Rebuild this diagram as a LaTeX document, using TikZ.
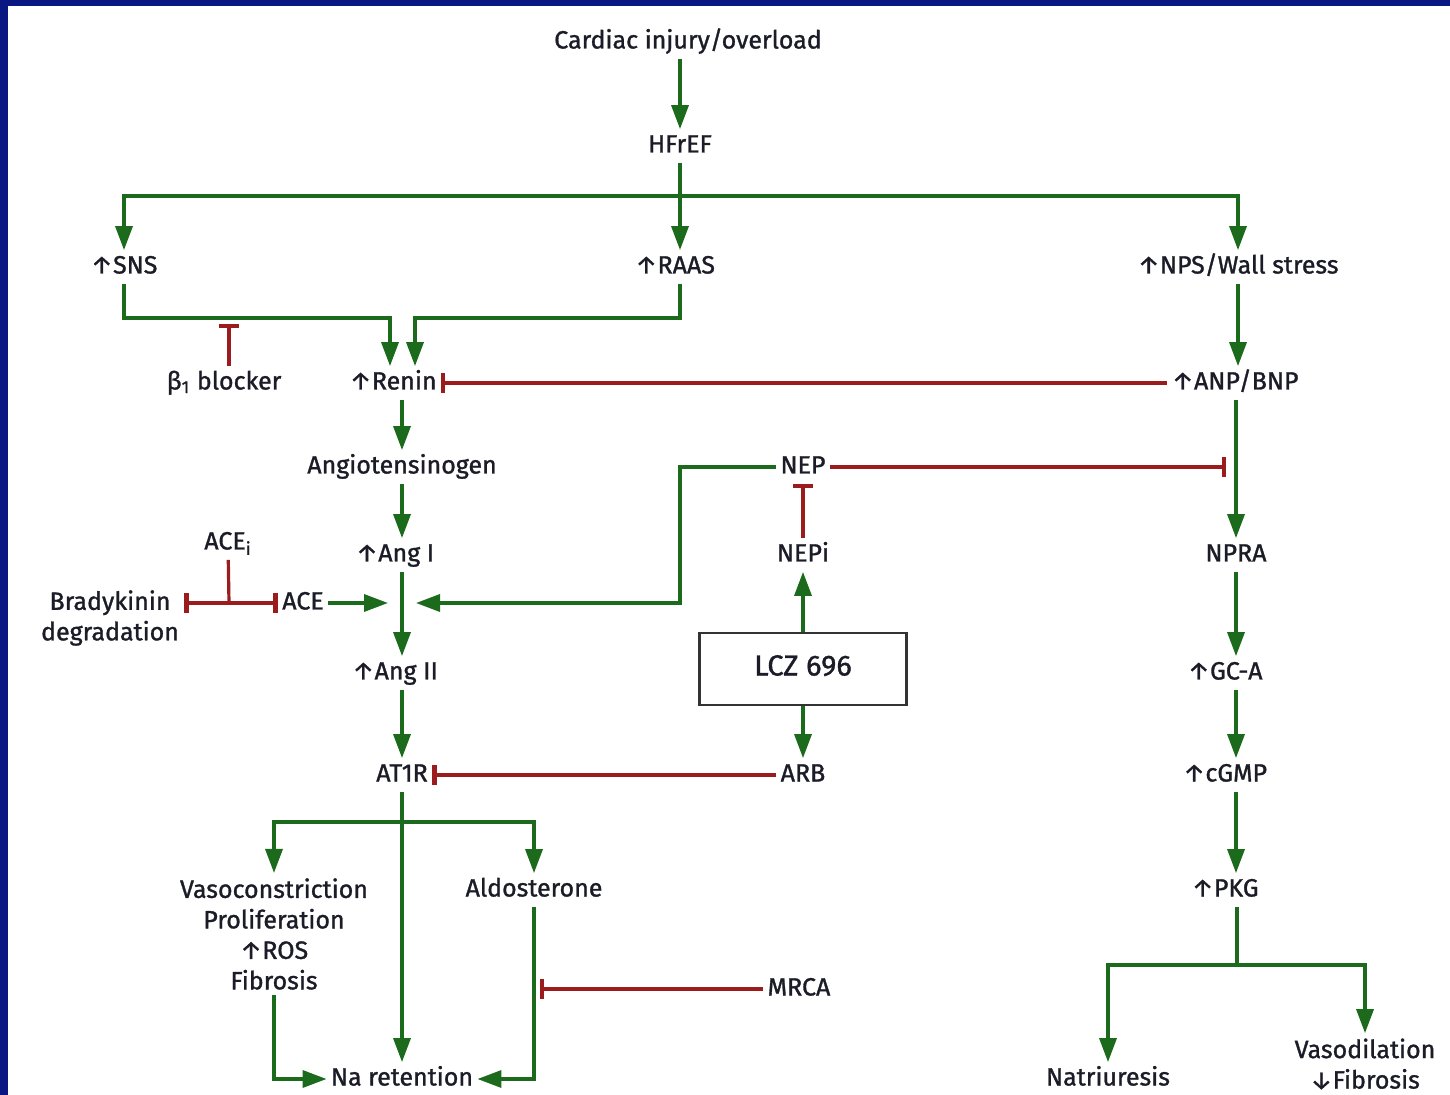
\documentclass[tikz,border=0pt]{standalone}
\usepackage{fontspec}
\setmainfont{Fira Sans}[UprightFeatures={FakeBold=1.2}]
\usetikzlibrary{arrows.meta}

\definecolor{frameblue}{RGB}{10,22,130}
\definecolor{actgreen}{RGB}{28,106,28}
\definecolor{inhred}{RGB}{155,28,28}
\definecolor{txtdark}{RGB}{28,28,40}
\newcommand{\upar}{\char"2191\relax}
\newcommand{\dnar}{\char"2193\relax}

\begin{document}
\begin{tikzpicture}[x=0.5pt,y=-0.5pt,
  lbl/.style={text=txtdark, inner xsep=2pt, inner ysep=2.5pt, text height=9pt, text depth=2.5pt, font=\fontsize{12.5}{15}\selectfont},
  lbls/.style={text=txtdark, inner sep=2.5pt, align=center, font=\fontsize{12.5}{15.25}\selectfont},
  act/.style={draw=actgreen, line width=1.7pt, -{Triangle[length=12pt,width=8.5pt]}},
  link/.style={draw=actgreen, line width=1.7pt},
  inh/.style={draw=inhred, line width=1.6pt, -{Bar[width=10pt,line width=2.2pt]}},
  inhline/.style={draw=inhred, line width=1.6pt}]
\fill[frameblue] (0,0) rectangle (1450,1095);
\fill[white] (8,6) rectangle (1450,1095);
\useasboundingbox (0,0) rectangle (1450,1095);

% top of the cascade
\node[lbl] (card) at (688,42) {Cardiac injury/overload};
\node[lbl] (hf) at (680,146) {HFrEF};
\node[lbl] (sns) at (124,267) {\upar SNS};
\node[lbl] (raas) at (675,267) {\upar RAAS};
\node[lbl] (nps) at (1238,267) {\upar NPS/Wall stress};
\coordinate (split) at (680,196);

% RAAS side
\node[lbl] (beta) at (224,383) {β\textsubscript{1} blocker};
\node[lbl] (renin) at (393,383) {\upar Renin};
\node[lbl] (agt) at (402,467) {Angiotensinogen};
\node[lbl] (acei) at (228,543) {ACE\textsubscript{i}};
\node[lbl] (ang1) at (395,555) {\upar Ang I};
\node[lbls] (brady) at (110,618) {Bradykinin\\degradation};
\node[lbl] (ace) at (303,603) {ACE};
\node[lbl] (ang2) at (395,673) {\upar Ang II};
\node[lbl] (at1r) at (402,775) {AT1R};
\node[lbls] (vaso) at (274,934) {Vasoconstriction\\Proliferation\\\upar ROS\\Fibrosis};
\node[lbl] (aldo) at (534,890) {Aldosterone};
\node[lbl] (na) at (402,1079) {Na retention};
\coordinate (snsturn) at (390,318); \coordinate (raasturn) at (415,318);
\coordinate (betabar) at (229,324);
\coordinate (angmid) at (402,603); \coordinate (acejoin) at (229,603);
\coordinate (nepbend) at (680,603);
\coordinate (atsplit) at (402,822);

% drug in the middle
\node[lbl] (nep) at (803,467) {NEP};
\node[lbl] (nepi) at (803,555) {NEPi};
\node[lbl, draw=black!80, line width=1.4pt, minimum width=103.5pt, minimum height=36pt, font=\fontsize{14.5}{17}\selectfont] (lcz) at (803,669) {LCZ 696};
\node[lbl] (arb) at (803,775) {ARB};
\node[lbl] (mrca) at (799,989) {MRCA};
\coordinate (mrcabar) at (540,989);

% natriuretic side
\node[lbl] (anp) at (1235,383) {\upar ANP/BNP};
\node[lbl] (npra) at (1236,555) {NPRA};
\node[lbl] (gca) at (1225,673) {\upar GC-A};
\node[lbl] (cgmp) at (1225,775) {\upar cGMP};
\node[lbl] (pkg) at (1225,890) {\upar PKG};
\node[lbl] (natri) at (1108,1079) {Natriuresis};
\node[lbls] (vasod) at (1365,1064) {Vasodilation\\\dnar Fibrosis};
\coordinate (nprabar) at (1226,462);
\coordinate (pkgsplit) at (1237,965);

\draw[act] (card.south -| hf) -- (hf);
\draw[act] (hf) -- (raas.north -| hf);
\draw[act] (split) -| (sns);
\draw[act] (split) -| (nps);
\draw[act] (sns) |- (snsturn) -- (renin.north -| snsturn);
\draw[act] (raas.south -| hf) |- (raasturn) -- (renin.north -| raasturn);
\draw[inh] (beta.north -| betabar) -- (betabar);
\draw[inh] (anp) -- (renin);

\draw[act] (renin.south -| agt) -- (agt);
\draw[act] (agt) -- (agt |- ang1.north);
\draw[act] (ang1.south -| agt) -- (agt |- ang2.north);
\draw[act, shorten >=7pt] (ace) -- (angmid);
\draw[act, shorten >=7pt] (nep) -| (nepbend) -- (angmid);
\draw[inhline] (acei) -- (acejoin);
\draw[inh] (acejoin) -- (ace);
\draw[inh] (acejoin) -- (acejoin -| brady.east);
\draw[act] (ang2.south -| agt) -- (agt |- at1r.north);

\draw[act] (lcz) -- (nepi);
\draw[act] (lcz) -- (arb);
\draw[inh] (nepi) -- (nep);
\draw[inh] (arb) -- (at1r);
\draw[inh] (nep) -- (nep -| nprabar);

\draw[act] (at1r) -- (na);
\draw[act] (atsplit) -| (vaso);
\draw[act] (atsplit) -| (aldo);
\draw[act] (vaso) |- (na);
\draw[act] (aldo) |- (na);
\draw[inh] (mrca) -- (mrcabar);

\draw[act] (nps) -- (nps |- anp.north);
\draw[act] (anp.south -| npra) -- (npra);
\draw[act] (npra) -- (npra |- gca.north);
\draw[act] (gca.south -| npra) -- (npra |- cgmp.north);
\draw[act] (cgmp.south -| npra) -- (npra |- pkg.north);
\draw[link] (pkg.south -| pkgsplit) -- (pkgsplit);
\draw[act] (pkgsplit) -| (natri);
\draw[act] (pkgsplit) -| (vasod);
\end{tikzpicture}
\end{document}
